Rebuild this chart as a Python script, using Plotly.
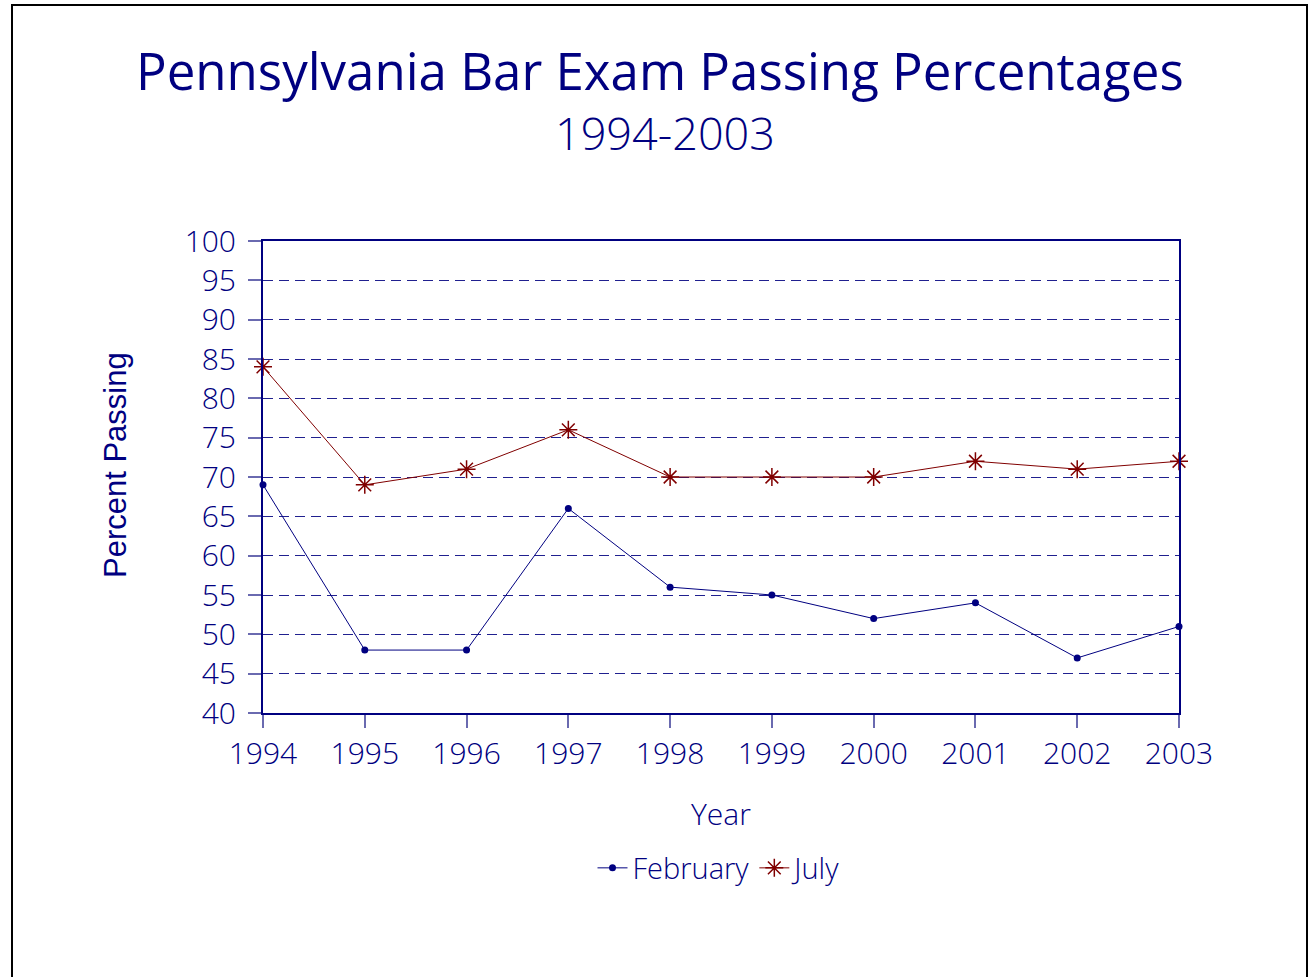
import plotly.graph_objects as go

years = [1994, 1995, 1996, 1997, 1998, 1999, 2000, 2001, 2002, 2003]
february = [69, 48, 48, 66, 56, 55, 52, 54, 47, 51]
july = [84, 69, 71, 76, 70, 70, 70, 72, 71, 72]
y_ticks = list(range(40, 101, 5))

NAVY = "#000080"
RED = "#800000"
FONT = "Open Sans"

fig = go.Figure()
fig.add_trace(go.Scatter(
    x=years, y=february, name="February", mode="lines+markers",
    line=dict(color=NAVY, width=1),
    marker=dict(symbol="circle", size=7, color=NAVY),
    cliponaxis=False,
))
fig.add_trace(go.Scatter(
    x=years, y=july, name="July", mode="lines+markers",
    line=dict(color=RED, width=1),
    marker=dict(symbol="asterisk-open", size=15, color=RED, line=dict(color=RED, width=1.5)),
    cliponaxis=False,
))

L, R, T, B = 263, 130, 241, 264
W, H = 1309, 977
pw, ph = W - L - R, H - T - B

def px_x(px):
    return (px - L) / pw

def px_y(py):
    return (H - B - py) / ph

fig.update_layout(
    width=W, height=H,
    margin=dict(l=L, r=R, t=T, b=B, pad=0),
    paper_bgcolor="white", plot_bgcolor="white",
    font=dict(family=FONT, color=NAVY, size=30),
    showlegend=True,
    legend=dict(orientation="h", x=px_x(720), xanchor="center", y=px_y(868), yanchor="middle",
                font=dict(size=29, color=NAVY, family=FONT, weight=300), bgcolor="rgba(0,0,0,0)",
                tracegroupgap=0),
    xaxis=dict(
        range=[1994, 2003], tickmode="array", tickvals=years, ticktext=[str(y) for y in years],
        showgrid=False, showline=True, linecolor=NAVY, linewidth=2, mirror=True,
        ticks="outside", ticklen=13, tickcolor="#6a6ab0", tickwidth=2,
        tickfont=dict(size=30, color=NAVY, family=FONT, weight=300), zeroline=False,
    ),
    yaxis=dict(
        range=[40, 100], tickmode="array", tickvals=y_ticks,
        showgrid=True, gridcolor="#20208f", griddash="10px,6px", gridwidth=1,
        showline=True, linecolor=NAVY, linewidth=2, mirror=True,
        ticks="outside", ticklen=13, tickcolor="#6a6ab0", tickwidth=2, ticklabelstandoff=6,
        tickfont=dict(size=30, color=NAVY, family=FONT, weight=300), zeroline=False,
    ),
    annotations=[
        dict(text="Pennsylvania Bar Exam Passing Percentages", x=px_x(660), y=px_y(70),
             xref="paper", yref="paper", showarrow=False, xanchor="center", yanchor="middle",
             font=dict(size=51, color=NAVY, family=FONT)),
        dict(text="1994-2003", x=px_x(665), y=px_y(133),
             xref="paper", yref="paper", showarrow=False, xanchor="center", yanchor="middle",
             font=dict(size=45, color=NAVY, family=FONT, weight=300)),
        dict(text="Year", x=px_x(721), y=px_y(813),
             xref="paper", yref="paper", showarrow=False, xanchor="center", yanchor="middle",
             font=dict(size=30, color=NAVY, family=FONT, weight=300)),
        dict(text="Percent Passing", x=px_x(115), y=px_y(465), textangle=-90,
             xref="paper", yref="paper", showarrow=False, xanchor="center", yanchor="middle",
             font=dict(size=31, color=NAVY, family="Liberation Sans")),
    ],
    shapes=[
        dict(type="rect", xref="paper", yref="paper",
             x0=px_x(12), x1=px_x(1307), y0=px_y(995), y1=px_y(5),
             line=dict(color="black", width=2), fillcolor="rgba(0,0,0,0)", layer="below"),
    ],
)

fig.write_html("out.html", config={"displayModeBar": False},
               post_script="document.body.style.margin='0';")
